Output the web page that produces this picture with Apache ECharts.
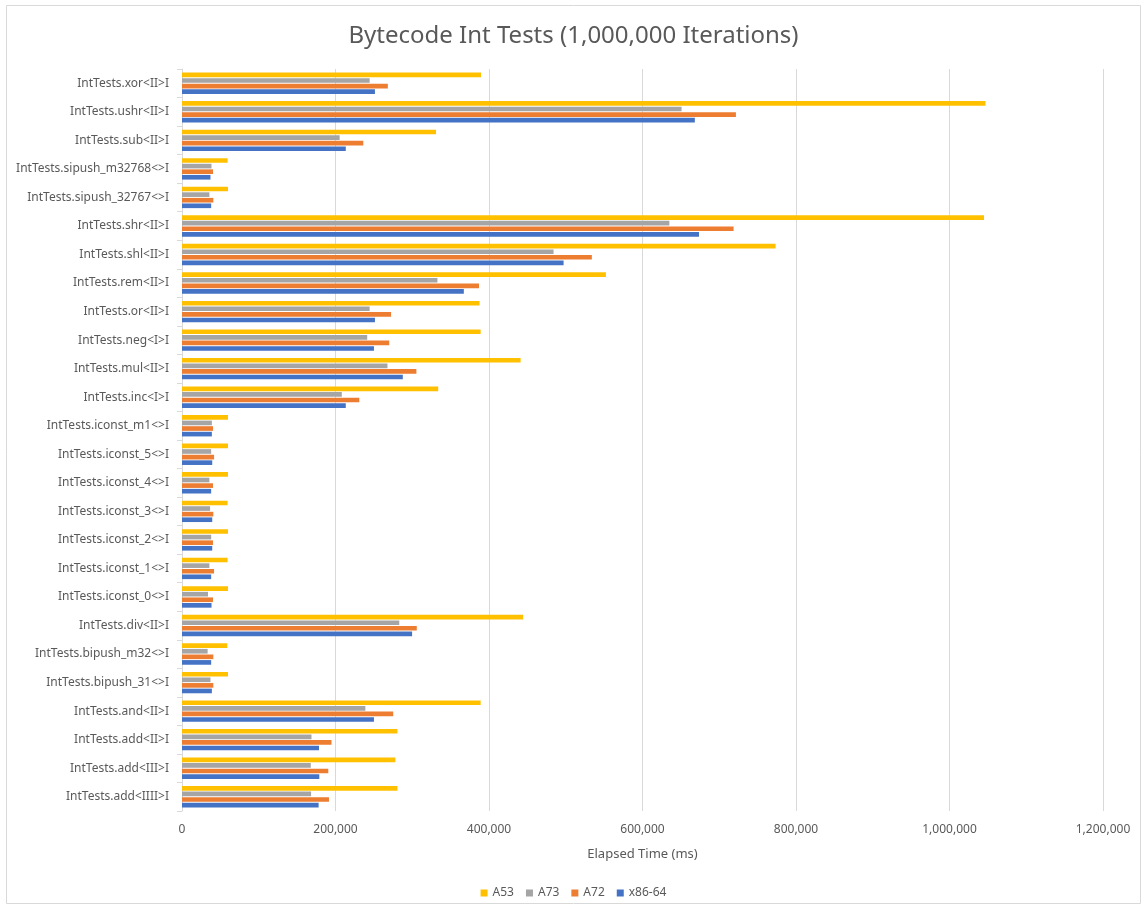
<!DOCTYPE html>
<html><head><meta charset="utf-8">
<script src="https://cdn.jsdelivr.net/npm/echarts@6/dist/echarts.min.js"></script>
<style>html,body{margin:0;padding:0;background:#fff}#c{width:1147px;height:909px}</style>
</head><body><div id="c"></div>
<script>
const categories = ["IntTests.add<IIII>I","IntTests.add<III>I","IntTests.add<II>I","IntTests.and<II>I","IntTests.bipush_31<>I","IntTests.bipush_m32<>I","IntTests.div<II>I","IntTests.iconst_0<>I","IntTests.iconst_1<>I","IntTests.iconst_2<>I","IntTests.iconst_3<>I","IntTests.iconst_4<>I","IntTests.iconst_5<>I","IntTests.iconst_m1<>I","IntTests.inc<I>I","IntTests.mul<II>I","IntTests.neg<I>I","IntTests.or<II>I","IntTests.rem<II>I","IntTests.shl<II>I","IntTests.shr<II>I","IntTests.sipush_32767<>I","IntTests.sipush_m32768<>I","IntTests.sub<II>I","IntTests.ushr<II>I","IntTests.xor<II>I"];
const A53 = [280700,278000,280700,389100,59900,59000,444500,59900,59400,59900,59400,59900,59900,59900,333800,441200,389100,387700,552300,773400,1045000,59900,59400,331000,1046900,389600];
const A73 = [168200,167800,168700,238900,37100,33400,283100,33900,35700,38000,36600,35700,38000,38900,208200,267700,241300,244500,332800,484100,635000,35700,38400,205400,650900,244500];
const A72 = [191500,190600,194800,275200,40800,40800,305900,40400,41800,40400,40800,40400,41800,40400,231000,305400,270000,272400,387000,534000,718700,40800,40400,236200,721700,268200];
const X86 = [178000,178900,178500,250100,38900,38000,299800,38500,38000,39400,39400,38000,39400,38900,213400,287700,250100,251400,367200,497200,673600,38000,37100,213400,668200,251400];
const xTicks = [0,200000,400000,600000,800000,1000000,1200000];

const chart = echarts.init(document.getElementById('c'));
const font = 'Noto Sans';
function mk(name, data, color){
  return {name, type:'bar', data, barGap:'20%', barCategoryGap:'25%',
    itemStyle:{color}, animation:false};
}
chart.setOption({
  animation:false,
  title:{text:'Bytecode Int Tests (1,000,000 Iterations)', left:'center', top:19,
    textStyle:{fontFamily:font, fontSize:24, fontWeight:'normal', color:'#595959'}},
  legend:{data:['A53','A73','A72','x86-64'], bottom:5, left:'center', itemWidth:7, itemHeight:7, itemGap:12,
    icon:'rect', textStyle:{fontFamily:font, fontSize:12, color:'#595959'}},
  grid:{left:182, right:44, top:69, bottom:98, containLabel:false},
  xAxis:{type:'value', min:xTicks[0], max:xTicks[xTicks.length-1], interval:200000,
    name:'Elapsed Time (ms)', nameLocation:'middle', nameGap:37,
    nameTextStyle:{fontFamily:font, fontSize:13, color:'#595959'},
    axisLine:{show:false}, axisTick:{show:false},
    axisLabel:{fontFamily:font, fontSize:12, color:'#595959', margin:13,
      formatter:v=>v.toLocaleString('en-US')},
    splitLine:{lineStyle:{color:'#D9D9D9', width:1}}},
  yAxis:{type:'category', data:categories,
    axisLine:{lineStyle:{color:'#D9D9D9'}},
    axisTick:{show:true, length:5, lineStyle:{color:'#D9D9D9'}},
    axisLabel:{fontFamily:font, fontSize:12, color:'#595959', margin:13}},
  series:[mk('A53',A53,'#FFC000'), mk('A73',A73,'#A5A5A5'), mk('A72',A72,'#ED7D31'), mk('x86-64',X86,'#4472C4')],
  graphic:[{type:'rect', shape:{x:6.5,y:5.5,width:1134,height:898}, style:{fill:'none', stroke:'#D9D9D9', lineWidth:1}, silent:true}]
});
</script></body></html>
